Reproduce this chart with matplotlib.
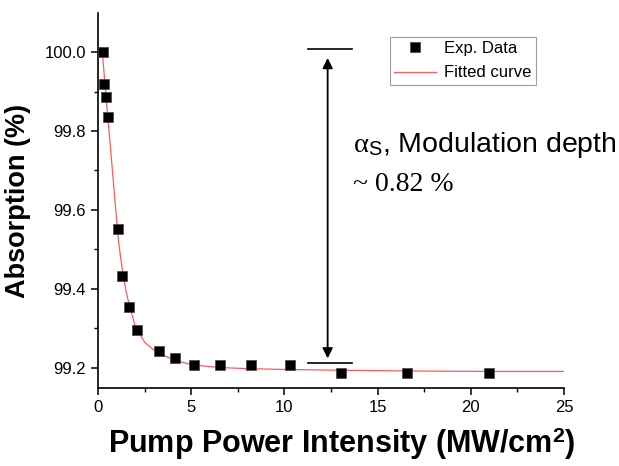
import matplotlib
matplotlib.use("Agg")
import matplotlib.pyplot as plt
from matplotlib.ticker import MultipleLocator

plt.rcParams['mathtext.fontset'] = 'custom'
plt.rcParams['mathtext.rm'] = 'Liberation Serif'
plt.rcParams['mathtext.it'] = 'Liberation Serif:italic'
plt.rcParams['mathtext.bf'] = 'Liberation Sans:bold'
plt.rcParams['mathtext.sf'] = 'Liberation Sans'
plt.rcParams['font.family'] = ['Liberation Sans', 'DejaVu Sans']

# Experimental data
exp_x = [0.25, 0.34, 0.43, 0.55, 1.06, 1.31, 1.64, 2.07, 3.27, 4.11, 5.17,
         6.53, 8.21, 10.3, 13.05, 16.58, 20.99]
exp_y = [100.0, 99.918, 99.885, 99.835, 99.551, 99.432, 99.354, 99.296,
         99.243, 99.225, 99.206, 99.206, 99.206, 99.206, 99.188, 99.188, 99.188]

# Fitted curve
fit_x = [0.23, 0.5, 0.8, 1.0, 1.1, 1.3, 1.5, 1.7, 2.0, 2.5, 3.0, 3.5, 4.0,
         5.0, 6.5, 8.0, 10.0, 13.0, 17.0, 21.0, 25.0]
fit_y = [100.0, 99.85, 99.685, 99.574, 99.52, 99.45, 99.395, 99.355, 99.305,
         99.265, 99.245, 99.232, 99.222, 99.208, 99.201, 99.198, 99.196,
         99.194, 99.192, 99.191, 99.191]

x_ticks = [0, 5, 10, 15, 20, 25]
y_ticks = [99.2, 99.4, 99.6, 99.8, 100.0]

fig = plt.figure(figsize=(6.19, 4.66), dpi=100)
ax = fig.add_axes([98/619, 1-388/466, (564-98)/619, (388-13)/466])

ax.plot(fit_x, fit_y, color='#ff5a5a', lw=0.9, label='Fitted curve', zorder=2)
ax.plot(exp_x, exp_y, ls='none', marker='s', ms=7, color='black',
        mec='#444444', mew=0.5, label='Exp. Data', zorder=3)

ax.set_xlim(0, 25)
ax.set_ylim(99.149, 100.099)
ax.set_xticks(x_ticks)
ax.set_yticks(y_ticks)
ax.set_yticklabels([f"{v:.1f}" for v in y_ticks])
ax.xaxis.set_minor_locator(MultipleLocator(2.5))
ax.yaxis.set_minor_locator(MultipleLocator(0.1))
for s in ['top', 'right']:
    ax.spines[s].set_visible(False)
for s in ['left', 'bottom']:
    ax.spines[s].set_linewidth(1.2)
ax.tick_params(which='major', direction='out', length=5, width=1.1, labelsize=12)
ax.tick_params(which='minor', direction='out', length=3, width=1.0)

ax.set_xlabel(r'Pump Power Intensity (MW/cm$^{\mathbf{2}}$)', fontsize=22,
              fontweight='bold')
ax.xaxis.set_label_coords((342-98)/466, -0.1)
ax.set_ylabel('Absorption (%)', fontsize=19.5, fontweight='bold', labelpad=10)

# Modulation depth annotation
ax.plot([11.25, 13.6], [100.009, 100.009], color='black', lw=1.2)
ax.plot([11.25, 13.6], [99.212, 99.212], color='black', lw=1.2)
ax.annotate('', xy=(12.32, 99.985), xytext=(12.32, 99.224),
            arrowprops=dict(arrowstyle='<|-|>', color='black', lw=1.3,
                            mutation_scale=15, shrinkA=0, shrinkB=0))
ax.text(13.68, 99.746, r'$\mathrm{\alpha}_{\mathsf{S}}$, Modulation depth',
        fontsize=20.5, va='baseline', ha='left')
ax.text(13.68, 99.649, r'~ 0.82 %', fontsize=20, family='Liberation Serif',
        va='baseline', ha='left')

# legend with Exp. Data first
h, l = ax.get_legend_handles_labels()
leg = ax.legend([h[1], h[0]], [l[1], l[0]], loc='upper left',
                bbox_to_anchor=(390/619, 1-37/466), bbox_transform=fig.transFigure,
                fontsize=12, frameon=True, fancybox=False, edgecolor='#888888',
                borderpad=0.25, handlelength=2.5, handletextpad=0.5,
                labelspacing=0.55, borderaxespad=0)
leg.get_frame().set_linewidth(0.8)

fig.savefig('out.png', dpi=100)
